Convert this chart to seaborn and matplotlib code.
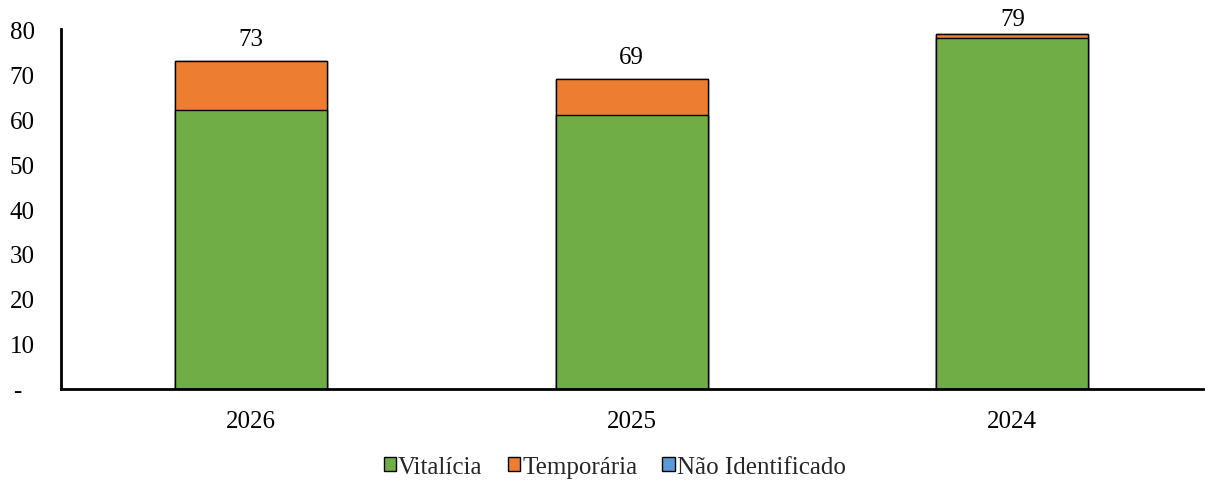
import numpy as np
import pandas as pd
import matplotlib
matplotlib.use('Agg')
import matplotlib.pyplot as plt
from matplotlib.patches import Patch
import seaborn as sns

# dados
anos = ['2026', '2025', '2024']
vitalicia = [62, 61, 78]
temporaria = [11, 8, 1]
nao_identificado = [0, 0, 0]
series_nomes = ['Vitalícia', 'Temporária', 'Não Identificado']
cores = ['#70AD47', '#ED7D31', '#5B9BD5']
yticks = [0, 10, 20, 30, 40, 50, 60, 70, 80]
ytick_labels = ['-  ', '10', '20', '30', '40', '50', '60', '70', '80']

sns.set_theme(style='white')
plt.rcParams['font.family'] = ['Liberation Serif', 'DejaVu Serif']

df = pd.DataFrame({'ano': anos, 'vit': vitalicia, 'tmp': temporaria, 'nid': nao_identificado})
df['c1'] = df['vit']
df['c2'] = df['vit'] + df['tmp']
df['c3'] = df['c2'] + df['nid']

fig = plt.figure(figsize=(12.05, 4.85), dpi=100)
ax = fig.add_axes([0.0506, 0.196, 0.9474, 0.742])

# barras empilhadas: desenha do total para baixo
for col, cor in [('c3', cores[2]), ('c2', cores[1]), ('c1', cores[0])]:
    sns.barplot(data=df, x='ano', y=col, color=cor, width=0.4, saturation=1,
                edgecolor='black', linewidth=1, ax=ax, order=anos)

# rótulos de total
totais = df['c3'].to_numpy()
label_y = np.minimum(totais + 4.9, 82.2)
for i, (t, ly) in enumerate(zip(totais, label_y)):
    ax.text(i, ly, f'{t:.0f}', ha='center', va='center', fontsize=18, color='black')

ax.set_xlim(-0.5, 2.5)
ax.set_ylim(0, 80)
ax.set_yticks(yticks)
ax.set_yticklabels(ytick_labels)
ax.set_xlabel('')
ax.set_ylabel('')
ax.tick_params(axis='y', length=0, pad=19, labelsize=18, colors='black')
ax.tick_params(axis='x', length=0, pad=15, labelsize=18, colors='black')

for s in ['top', 'right']:
    ax.spines[s].set_visible(False)
for s in ['left', 'bottom']:
    ax.spines[s].set_color('black')
    ax.spines[s].set_linewidth(2)

handles = [Patch(facecolor=c, edgecolor='black', linewidth=1) for c in cores]
fig.legend(handles, series_nomes, loc='center', bbox_to_anchor=(0.51, 0.035),
           ncol=3, frameon=False, fontsize=18, handlelength=0.5, handleheight=0.5,
           handletextpad=0.08, columnspacing=1.0)

plt.savefig('out.png', dpi=100)
